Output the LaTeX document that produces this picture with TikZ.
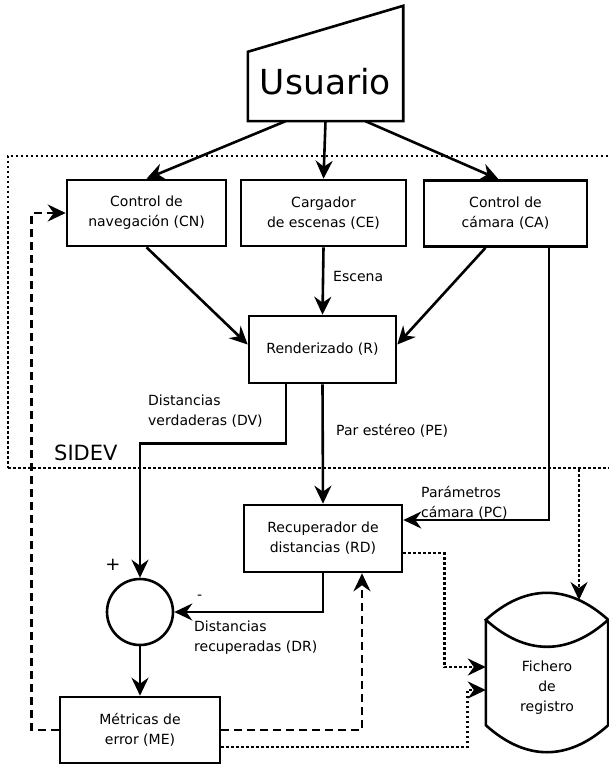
\documentclass[tikz,border=0pt]{standalone}
\usepackage{fontspec}
\setmainfont{DejaVu Sans}
\usetikzlibrary{arrows.meta,calc}
\begin{document}
\begin{tikzpicture}[x=1pt,y=-1pt,
  txt/.style={font=\fontsize{14}{20}\selectfont},
  box/.style={txt, draw, line width=2.6pt, align=center, inner sep=0pt},
  lbl/.style={txt, inner sep=0pt, align=left, anchor=west},
  line/.style={line width=2.6pt},
  flow/.style={line width=2.6pt, -{Stealth[length=18pt,width=17pt,inset=6pt]}},
  dsh/.style={flow, dash pattern=on 8pt off 5pt},
  dtt/.style={flow, dash pattern=on 2.5pt off 2.5pt}]
\useasboundingbox (0,0) rectangle (608,765);
% SIDEV frame
\node[draw, line width=2.6pt, dash pattern=on 2.5pt off 2.5pt, minimum width=604pt, minimum height=312pt, inner sep=0pt] (SB) at (310,312) {};
\node[lbl, font=\fontsize{21}{25}\selectfont] (SL) at (54,453) {SIDEV};
% Usuario
\node[inner sep=0pt, minimum width=155pt, minimum height=69pt, text depth=11pt, font=\fontsize{34.5}{40}\selectfont] (U) at (325.5,86.5) {Usuario};
\draw[line] (U.south west) -- (U.north west) -- ([yshift=46pt]U.north east) -- (U.south east) -- cycle;
% boxes
\node[box, minimum width=159pt, minimum height=66pt] (CN) at (146.5,213) {Control de\\navegación (CN)};
\node[box, minimum width=165pt, minimum height=66pt] (CE) at (323.5,213) {Cargador\\de escenas (CE)};
\node[box, minimum width=163pt, minimum height=66pt] (CA) at (505.5,213.5) {Control de\\cámara (CA)};
\node[box, minimum width=147pt, minimum height=67pt] (R) at (322.5,349.5) {Renderizado (R)};
\node[box, minimum width=158pt, minimum height=67pt] (RD) at (323,538.5) {Recuperador de\\distancias (RD)};
\node[box, circle, minimum size=66pt] (S) at (140,612) {};
\node[box, minimum width=160pt, minimum height=66pt] (ME) at (140,730) {Métricas de\\error (ME)};
% cylinder
\node[inner sep=0pt, minimum width=122pt, minimum height=105pt] (F) at (547,672.5) {};
\draw[line] (F.north west) -- (F.south west) .. controls +(40,36) and +(-40,36) .. (F.south east)
  -- (F.north east) .. controls +(-40,-36) and +(40,-36) .. (F.north west)
  .. controls +(40,36) and +(-40,36) .. (F.north east);
\node[txt, align=center, inner sep=0pt] (FT) at (547,688) {Fichero\\de\\registro};
\coordinate (Ftop) at (579,600);
% connectors
\draw[flow] ([xshift=-40pt]U.south) -- (CN.north);
\draw[flow] (U.south) -- (CE.north);
\draw[flow] ([xshift=40pt]U.south) -- ([xshift=-7pt]CA.north);
\draw[flow] (CN.south) -- ([yshift=5pt]R.west);
\draw[flow] (CE.south) -- (R.north);
\draw[flow] ([xshift=-20pt]CA.south) -- ([yshift=5pt]R.east);
\draw[flow] ([xshift=43.5pt]CA.south) |- ([yshift=18.5pt]RD.east);
\draw[flow] (R.south) -- (RD.north);
\draw[flow] ([xshift=-36.5pt]R.south) -- ++(0,59) -| (S.north);
\draw[flow] (RD.south) |- (S.east);
\draw[flow] (S.south) -- (ME.north);
\draw[dsh] (ME.west) -- ++(-27,0) |- (CN.west);
\draw[dsh] (ME.east) -| ([xshift=39pt]RD.south);
\draw[dtt] ([yshift=-17pt]ME.east) -- ++(246,0) |- ([yshift=-17.5pt]F.west);
\draw[dtt] ([yshift=-14.5pt]RD.east) -- ++(41,0) |- ([yshift=5.5pt]F.west);
\draw[dtt] (SB.south -| Ftop) -- (Ftop);
% labels
\node[lbl] (lE) at (333,276) {Escena};
\node[lbl] (lDV) at (148,411.5) {Distancias\\verdaderas (DV)};
\node[lbl] (lPE) at (336,431) {Par estéreo (PE)};
\node[lbl] (lPC) at (421,503) {Parámetros\\cámara (PC)};
\node[lbl] (lDR) at (194,638) {Distancias\\recuperadas (DR)};
\node[font=\fontsize{18}{20}\selectfont, inner sep=0pt] (plus) at (113,565) {+};
\node[lbl] (minus) at (197,597) {-};
\end{tikzpicture}
\end{document}
